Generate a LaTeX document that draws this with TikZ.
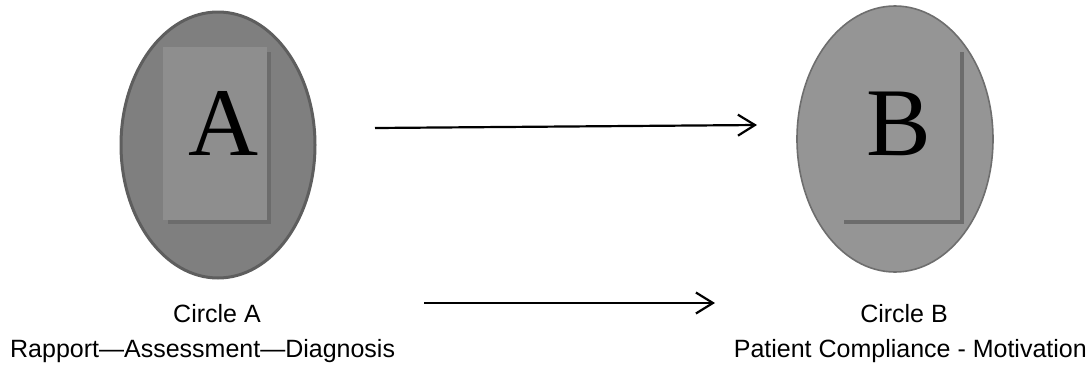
\documentclass[tikz,border=0pt]{standalone}
\usepackage{fontspec}
\setmainfont{Liberation Sans}
\newfontfamily\serifbig{Liberation Serif}
\usetikzlibrary{shapes.geometric,arrows.meta}
\definecolor{fillA}{HTML}{7F7F7F}
\definecolor{edgeA}{HTML}{5E5E5E}
\definecolor{rectA}{HTML}{8E8E8E}
\definecolor{shadowC}{HTML}{6C6C6C}
\definecolor{fillB}{HTML}{959595}
\definecolor{edgeB}{HTML}{6E6E6E}
\tikzset{
  bigletter/.style={font=\serifbig\fontsize{97}{97}\selectfont, inner sep=0, anchor=base},
  caption/.style={font=\fontsize{25}{25}\selectfont, inner sep=0},
  flowarrow/.style={line width=2.2pt, -{Straight Barb[length=17pt,width=21pt,line width=2.2pt]}},
  shadowline/.style={shadowC, line width=3.5pt},
}
\begin{document}
\begin{tikzpicture}[x=1pt,y=-1pt]
\useasboundingbox (0,0) rectangle (1088,376);
% Circle A
\node (circA) [ellipse, draw=edgeA, line width=3pt, fill=fillA, inner sep=0,
  minimum width=194, minimum height=266] at (218,145) {};
\coordinate (rAtl) at (163,47);
\coordinate (rAbr) at (267,220);
\draw[shadowline] (269,52) -- (269,222) -- (168,222);
\fill[rectA] (rAtl) rectangle (rAbr);
\node (letA) [bigletter] at (224,155) {A};
% Circle B
\node (circB) [ellipse, draw=edgeB, line width=1.6pt, fill=fillB, inner sep=0,
  minimum width=196, minimum height=266] at (895,139) {};
\coordinate (lBt) at (962,52);
\coordinate (lBc) at (962,222);
\coordinate (lBl) at (844,222);
\draw[shadowline] (lBt) -- (lBc) -- (lBl);
\node (letB) [bigletter] at (899,155) {B};
% arrows
\coordinate (a1s) at (375,128);
\coordinate (a1e) at (757,125);
\coordinate (a2s) at (424,303);
\coordinate (a2e) at (715,303);
\draw[flowarrow] (a1s) -- (a1e);
\draw[flowarrow] (a2s) -- (a2e);
% captions
\node (capA) [caption, anchor=base] at (217,322) {Circle A};
\node (capB) [caption, anchor=base] at (904,322) {Circle B};
\node (descA) [caption, anchor=base west] at (10,357) {Rapport—Assessment—Diagnosis};
\node (descB) [caption, anchor=base east] at (1087,357) {Patient Compliance - Motivation};
\end{tikzpicture}
\end{document}
